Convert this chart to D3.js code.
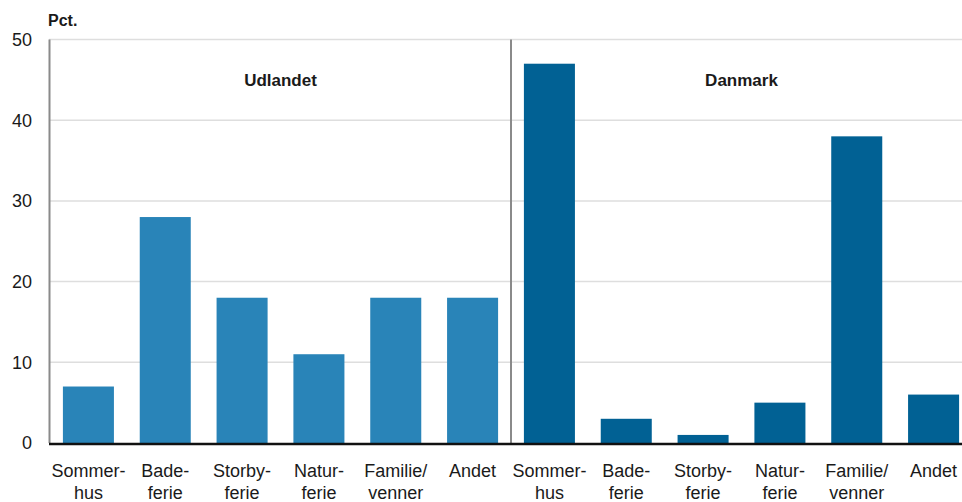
<!DOCTYPE html>
<html>
<head>
<meta charset="utf-8">
<script src="https://cdn.jsdelivr.net/npm/d3@7"></script>
<style>
  body { margin: 0; background: #fff; }
  svg { display: block; font-family: "Liberation Sans Narrow", "Arial Narrow", "Liberation Sans", sans-serif; }
</style>
</head>
<body>
<svg id="chart" width="962" height="502"></svg>
<script>
// data
const categories = [
  ["Sommer-", "hus"], ["Bade-", "ferie"], ["Storby-", "ferie"],
  ["Natur-", "ferie"], ["Familie/", "venner"], ["Andet"]
];
const groups = ["Udlandet", "Danmark"];
const udlandet = [7, 28, 18, 11, 18, 18];
const danmark = [47, 3, 1, 5, 38, 6];
const yTicks = [0, 10, 20, 30, 40, 50];
const colors = { Udlandet: "#2984b8", Danmark: "#016194" };

const rows = [];
groups.forEach((g, gi) => {
  const vals = gi === 0 ? udlandet : danmark;
  categories.forEach((c, ci) => rows.push({ group: g, label: c, value: vals[ci], idx: gi * 6 + ci }));
});

const svg = d3.select('#chart');

const x = d3.scaleBand()
  .domain(d3.range(rows.length))
  .range([50, 972])
  .paddingInner(0.336)
  .paddingOuter(0.168);

const y = d3.scaleLinear().domain([0, 50]).range([443, 39.5]);

// gridlines
svg.append('g')
  .selectAll('line')
  .data(yTicks.filter(d => d > 0))
  .join('line')
  .attr('x1', 49).attr('x2', 962)
  .attr('y1', d => y(d)).attr('y2', d => y(d))
  .attr('stroke', '#dedede').attr('stroke-width', 1.5);

// y tick labels
svg.append('g')
  .selectAll('text')
  .data(yTicks)
  .join('text')
  .attr('x', 32)
  .attr('y', d => y(d))
  .attr('dy', '0.35em')
  .attr('text-anchor', 'end')
  .style('font-size', '18px')
  .style('fill', '#1a1a1a')
  .text(d => d);

svg.append('text')
  .attr('x', 48).attr('y', 26)
  .style('font-size', '16px').style('font-weight', 'bold')
  .style('fill', '#1a1a1a')
  .text('Pct.');

// bars
svg.append('g')
  .selectAll('rect')
  .data(rows)
  .join('rect')
  .attr('x', d => x(d.idx))
  .attr('width', x.bandwidth())
  .attr('y', d => y(d.value))
  .attr('height', d => y(0) - y(d.value))
  .attr('fill', d => colors[d.group]);

// y axis line
svg.append('line')
  .attr('x1', 49.5).attr('x2', 49.5)
  .attr('y1', y(50)).attr('y2', y(0))
  .attr('stroke', '#8a8a8a').attr('stroke-width', 2);

// divider between groups
const divX = x(6) - x.step() * x.paddingInner() / 2;
svg.append('line')
  .attr('x1', divX).attr('x2', divX)
  .attr('y1', y(50)).attr('y2', y(0))
  .attr('stroke', '#8a8a8a').attr('stroke-width', 2);

// baseline
svg.append('line')
  .attr('x1', 49).attr('x2', 962)
  .attr('y1', y(0) + 1).attr('y2', y(0) + 1)
  .attr('stroke', '#111').attr('stroke-width', 2.5);

// group titles
groups.forEach((g, gi) => {
  const cx = (x(gi * 6) + x(gi * 6 + 5) + x.bandwidth()) / 2;
  svg.append('text')
    .attr('x', cx).attr('y', 86)
    .attr('text-anchor', 'middle')
    .style('font-size', '17px').style('font-weight', 'bold')
    .style('fill', '#1a1a1a')
    .text(g);
});

// x labels
const xl = svg.append('g')
  .selectAll('text')
  .data(rows)
  .join('text')
  .attr('x', d => x(d.idx) + x.bandwidth() / 2)
  .attr('y', 477)
  .attr('text-anchor', 'middle')
  .style('font-size', '18px')
  .style('fill', '#1a1a1a');
xl.selectAll('tspan')
  .data(d => d.label)
  .join('tspan')
  .attr('x', function() { return d3.select(this.parentNode).attr('x'); })
  .attr('dy', (d, i) => i === 0 ? 0 : 22)
  .text(d => d);
</script>
</body>
</html>
